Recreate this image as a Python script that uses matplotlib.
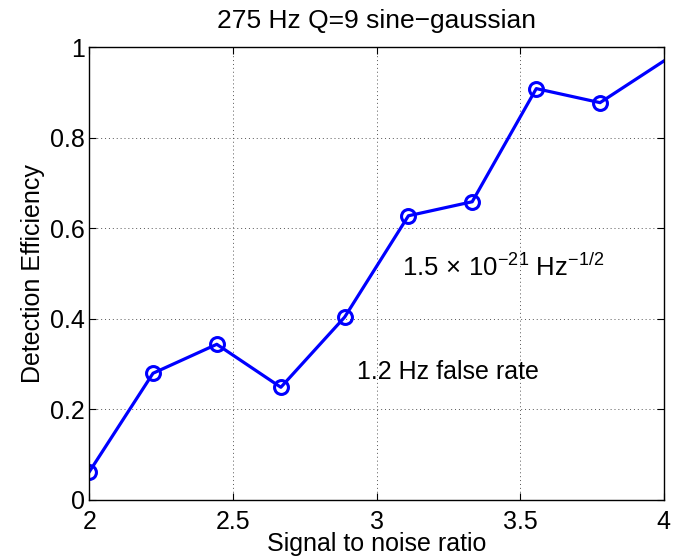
import numpy as np
import matplotlib
matplotlib.use("Agg")
import matplotlib.pyplot as plt

plt.rcParams['font.family'] = ['Liberation Sans', 'DejaVu Sans']
plt.rcParams['mathtext.fontset'] = 'custom'
plt.rcParams['mathtext.rm'] = 'Liberation Sans'
plt.rcParams['mathtext.it'] = 'Liberation Sans'

# signal to noise ratio and detection efficiency
snr = [2.0, 2.222, 2.444, 2.667, 2.889, 3.111, 3.333, 3.556, 3.778, 4.0]
eff = [0.062, 0.280, 0.344, 0.249, 0.404, 0.628, 0.659, 0.909, 0.878, 0.970]
xticks = [2, 2.5, 3, 3.5, 4]
xtick_labels = ['2', '2.5', '3', '3.5', '4']
yticks = [0, 0.2, 0.4, 0.6, 0.8, 1]
ytick_labels = ['0', '0.2', '0.4', '0.6', '0.8', '1']

fig = plt.figure(figsize=(6.76, 5.58), dpi=100)
ax = fig.add_axes([0.132, 0.104, 0.850, 0.811])

# last point lies on the axis edge, its marker is clipped off in the original
ax.plot(snr, eff, color='#0000ff', lw=2.3, marker='o', ms=10, mfc='none',
        mew=2.2, markevery=slice(0, len(snr) - 1))

ax.set_xlim(2, 4)
ax.set_ylim(0, 1)
ax.set_xticks(xticks)
ax.set_xticklabels(xtick_labels)
ax.set_yticks(yticks)
ax.set_yticklabels(ytick_labels)
ax.grid(True, linestyle=(0, (1, 3)), color='#555555', lw=0.7)
ax.tick_params(direction='in', top=True, right=True, labelsize=18, length=5)
ax.tick_params(axis='x', pad=7)
ax.tick_params(axis='y', pad=3)
for s in ax.spines.values():
    s.set_linewidth(1.0)

ax.set_xlabel('Signal to noise ratio', fontsize=18, labelpad=-1)
ax.set_ylabel('Detection Efficiency', fontsize=18, labelpad=4)
ax.set_title('275 Hz Q=9 sine\u2212gaussian', fontsize=19, pad=14)

ax.text(3.089, 0.513, r'1.5$\,\times\,$10$^{-21}$ Hz$^{-1/2}$', fontsize=18.5, va='center')
ax.text(2.932, 0.283, '1.2 Hz false rate', fontsize=18, va='center')

fig.savefig('out.png', dpi=100)
